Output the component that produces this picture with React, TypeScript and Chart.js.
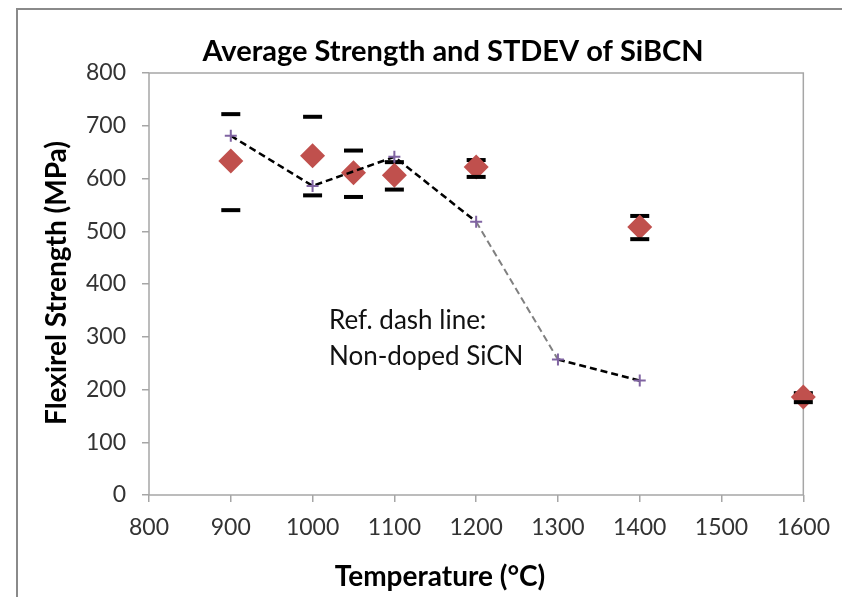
import React, { useEffect, useRef } from 'react';
import { Chart, registerables } from 'chart.js';

Chart.register(...registerables);

// ---- data ----
const temps = [900, 1000, 1050, 1100, 1200, 1400, 1600];
const avgStrength = [633, 643, 611, 606, 622, 508, 186];
const stdevUpper = [722, 717, 653, 631, 635, 529, 193];
const stdevLower = [540, 568, 565, 579, 603, 485, 176];
const refTemps = [900, 1000, 1100, 1200, 1300, 1400];
const refStrength = [681, 586, 641, 518, 257, 217];
const xRange = [800, 1600];
const yRange = [0, 800];
const titleText = 'Average Strength and STDEV of SiBCN';
const xTitle = 'Temperature (°C)';
const yTitle = 'Flexirel Strength (MPa)';
const noteLines = ['Ref. dash line:', 'Non-doped SiCN'];

const FONT = 'Lato, "Open Sans", sans-serif';

const toPts = (xs: number[], ys: number[]) => xs.map((x, i) => ({ x, y: ys[i] }));

const decor = {
  id: 'decor',
  beforeDraw(chart: any) {
    const ctx = chart.ctx;
    ctx.save();
    ctx.fillStyle = '#ffffff';
    ctx.fillRect(0, 0, chart.width, chart.height);
    ctx.strokeStyle = '#8a8a8a';
    ctx.lineWidth = 2;
    ctx.strokeRect(17, 9, chart.width + 50, chart.height + 50);
    ctx.restore();
  },
  beforeDatasetsDraw(chart: any) {
    const { ctx, chartArea: a } = chart;
    ctx.save();
    ctx.strokeStyle = '#a6a6a6';
    ctx.lineWidth = 1.5;
    ctx.strokeRect(a.left, a.top, a.right - a.left, a.bottom - a.top);
    ctx.restore();
  },
  afterDraw(chart: any) {
    const ctx = chart.ctx;
    ctx.save();
    ctx.fillStyle = '#000';
    ctx.textAlign = 'center';
    ctx.textBaseline = 'middle';
    ctx.font = `bold 29px ${FONT}`;
    ctx.fillText(titleText, 453, 52);
    ctx.font = `bold 28px ${FONT}`;
    ctx.fillText(xTitle, 440, 577);
    ctx.save();
    ctx.translate(57, 283);
    ctx.rotate(-Math.PI / 2);
    ctx.fillText(yTitle, 0, 0);
    ctx.restore();
    ctx.textAlign = 'left';
    ctx.font = `26px ${FONT}`;
    ctx.fillStyle = '#111';
    ctx.fillText(noteLines[0], 329, 321);
    ctx.fillText(noteLines[1], 329, 357);
    ctx.restore();
  },
};

export default function App() {
  const ref = useRef<HTMLCanvasElement>(null);
  useEffect(() => {
    const chart = new Chart(ref.current!, {
      type: 'scatter',
      data: {
        datasets: [
          {
            label: 'Ref',
            type: 'line',
            data: toPts(refTemps, refStrength),
            showLine: true,
            clip: false,
            borderColor: '#000',
            borderWidth: 2.5,
            borderDash: [7, 4],
            segment: {
              borderColor: (c: any) => (c.p0.parsed.x === 1200 ? '#808080' : '#000'),
              borderWidth: (c: any) => (c.p0.parsed.x === 1200 ? 2 : 2.5),
            },
            pointStyle: 'cross',
            pointRadius: 6,
            pointBorderWidth: 2,
            pointBorderColor: '#8064A2',
            pointBackgroundColor: '#8064A2',
            fill: false,
          } as any,
          {
            label: 'Lower',
            data: toPts(temps, stdevLower),
            clip: false,
            pointStyle: 'line',
            pointRadius: 9.5,
            pointBorderWidth: 4,
            pointBorderColor: '#000',
            pointBackgroundColor: '#000',
          } as any,
          {
            label: 'Average',
            data: toPts(temps, avgStrength),
            clip: false,
            pointStyle: 'rectRot',
            pointRadius: 12.5,
            pointBorderWidth: 0,
            pointBackgroundColor: '#C0504D',
            pointBorderColor: '#C0504D',
          } as any,
          {
            label: 'Upper',
            data: toPts(temps, stdevUpper),
            clip: false,
            pointStyle: 'line',
            pointRadius: 9.5,
            pointBorderWidth: 4,
            pointBorderColor: '#000',
            pointBackgroundColor: '#000',
          } as any,
        ],
      },
      options: {
        responsive: false,
        animation: false,
        layout: { padding: { left: 59, top: 73, right: 38, bottom: 42 } },
        plugins: { legend: { display: false }, tooltip: { enabled: false }, title: { display: false } },
        scales: {
          x: {
            type: 'linear',
            min: xRange[0],
            max: xRange[1],
            afterFit: (s: any) => { s.height = 60; },
            border: { display: false },
            grid: { drawOnChartArea: false, drawTicks: true, tickLength: 7, color: '#a6a6a6', lineWidth: 1.5 },
            ticks: { stepSize: 100, padding: 12, color: '#333', font: { family: FONT, size: 23 }, callback: (v: any) => String(v) },
          },
          y: {
            type: 'linear',
            min: yRange[0],
            max: yRange[1],
            afterFit: (s: any) => { s.width = 90; },
            border: { display: false },
            grid: { drawOnChartArea: false, drawTicks: true, tickLength: 7, color: '#a6a6a6', lineWidth: 1.5 },
            ticks: { stepSize: 100, padding: 16, color: '#333', font: { family: FONT, size: 23 }, callback: (v: any) => String(v) },
          },
        },
      },
      plugins: [decor],
    });
    return () => chart.destroy();
  }, []);
  return (
    <div style={{ position: 'absolute', left: 0, top: 0, width: 842, height: 597 }}>
      <canvas ref={ref} width={842} height={597} />
    </div>
  );
}
